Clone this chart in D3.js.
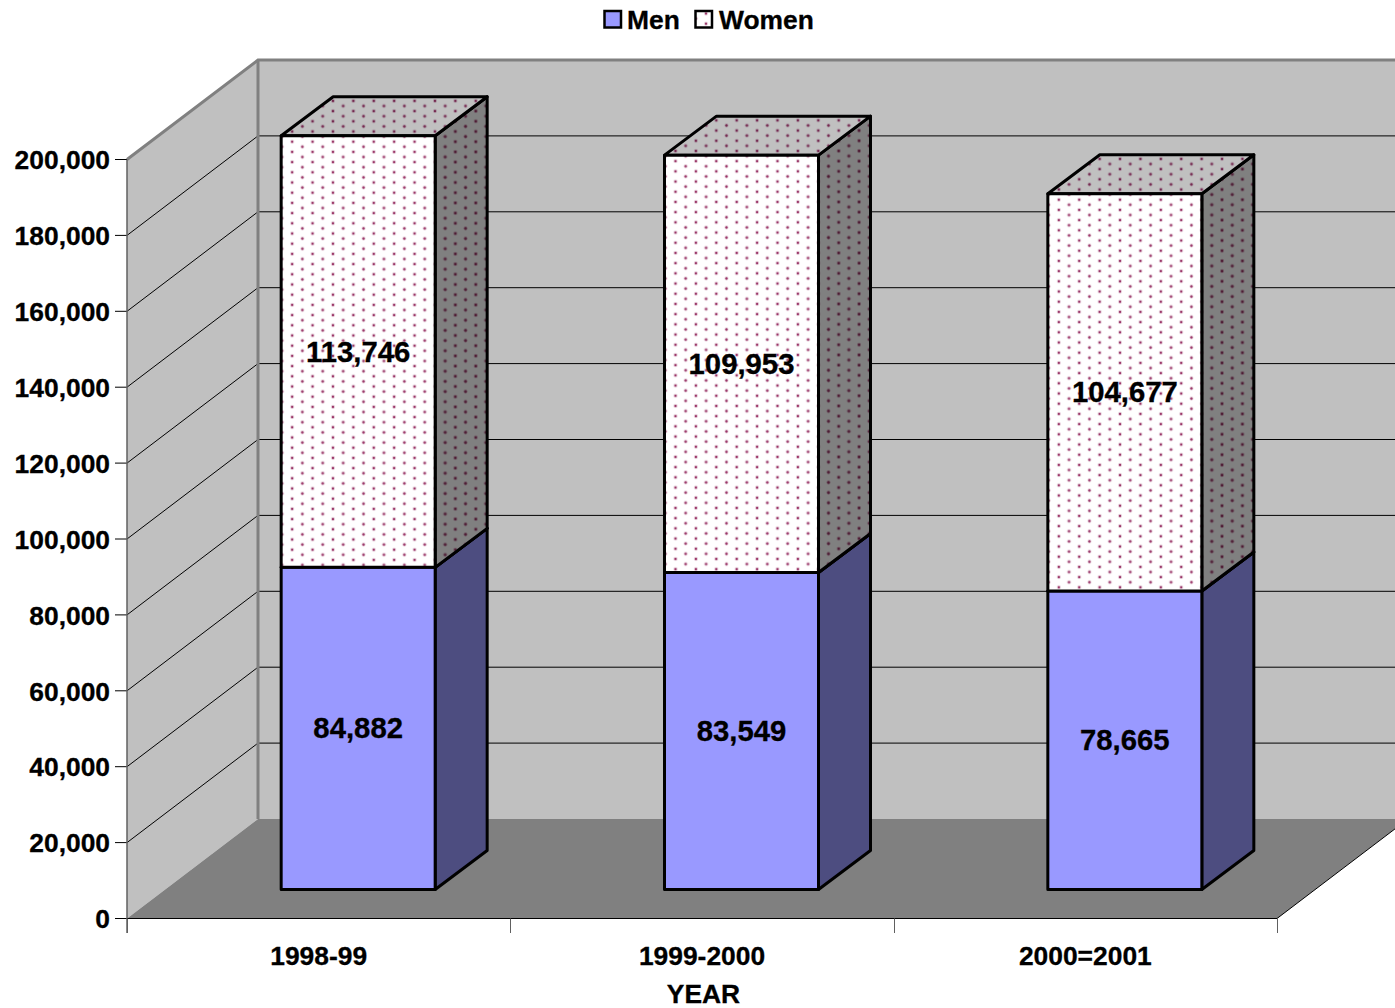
<!DOCTYPE html>
<html><head><meta charset="utf-8">
<style>html,body{margin:0;padding:0;background:#fff}svg{display:block}text{font-family:"Liberation Sans",Arial,sans-serif;font-weight:bold;fill:#000;stroke:#000;stroke-width:.3px}</style>
<script src="https://cdn.jsdelivr.net/npm/d3@7"></script></head><body>
<svg id="c" width="1395" height="1008"></svg>
<script>
const categories = ["1998-99","1999-2000","2000=2001"];
const men = [84882,83549,78665];
const women = [113746,109953,104677];
const seriesNames = ["Men","Women"];
const yTicks = [0,20000,40000,60000,80000,100000,120000,140000,160000,180000,200000];
const axisTitle = "YEAR";

const W=1395,H=1008;
const svg=d3.select("#c");
const x0=127,x1=1277,yB=918.5,yT=159.5;
const dx=131,dy=-99.5;          // full wall depth
const bdx=39.5,bdy=-29;         // bar front offset
const ddx=52,ddy=-39;           // bar depth
const barW=154;
const x=d3.scaleBand().domain(categories).range([x0,x1]);
const y=d3.scaleLinear().domain([0,200000]).range([yB,yT]);
const fmt=d3.format(",");
const P=a=>a.map(p=>p.join(",")).join(" ");

// patterns
const defs=svg.append("defs");
function pat(id,ox,oy,bg,dot,halo){
  const p=defs.append("pattern").attr("id",id).attr("patternUnits","userSpaceOnUse")
    .attr("x",ox).attr("y",oy).attr("width",20.4).attr("height",10.2);
  p.append("rect").attr("width",20.4).attr("height",10.2).attr("fill",bg);
  [[0,0],[20.4,0],[0,10.2],[20.4,10.2],[10.2,5.1]].forEach(c=>{
    p.append("circle").attr("cx",c[0]).attr("cy",c[1]).attr("r",2).attr("fill",halo);
    p.append("circle").attr("cx",c[0]).attr("cy",c[1]).attr("r",1.15).attr("fill",dot);
  });
}
function patSet(k,ox,oy){
  pat("wFront"+k,ox,oy,"#fff","#993366","#e6cfda");
  pat("wTop"+k,ox,oy,"#c0c0c0","#73264d","#ab95a2");
  pat("wSide"+k,ox,oy,"#808080","#4d1a33","#6d5661");
}
pat("wLegend",706,13.5,"#fff","#993366","#e6cfda");

// walls
svg.append("polygon").attr("points",P([[x0,yT],[x0+dx,yT+dy],[x0+dx,yB+dy],[x0,yB]])).attr("fill","#c0c0c0");
svg.append("polygon").attr("points",P([[x0+dx,yT+dy],[x1+dx,yT+dy],[x1+dx,yB+dy],[x0+dx,yB+dy]])).attr("fill","#c0c0c0");
svg.append("polygon").attr("points",P([[x0,yB],[x0+dx,yB+dy],[x1+dx,yB+dy],[x1,yB]])).attr("fill","#808080");

// gridlines
yTicks.slice(1,-1).forEach(t=>{
  const v=y(t);
  svg.append("polyline").attr("points",P([[x0,v],[x0+dx,v+dy],[x1+dx,v+dy]])).attr("fill","none").attr("stroke","#000").attr("stroke-width",1);
});
svg.append("polyline").attr("points",P([[x0,yT],[x0+dx,yT+dy],[W+20,yT+dy]])).attr("fill","none").attr("stroke","#808080").attr("stroke-width",3);
svg.append("line").attr("x1",x0+dx).attr("x2",x0+dx).attr("y1",yT+dy).attr("y2",yB+dy).attr("stroke","#808080").attr("stroke-width",3);

// axes
const yAxis=d3.axisLeft(y).tickValues(yTicks).tickFormat(fmt).tickSize(12).tickPadding(5).offset(0);
const ga=svg.append("g").attr("transform",`translate(${x0},0)`).call(yAxis);
ga.select(".domain").remove();
ga.selectAll("line").attr("stroke","#000");
ga.selectAll("text").style("font-size","26.4px").attr("fill","#000").attr("y",1).attr("dy","0.33em");
svg.append("line").attr("x1",x0).attr("x2",x0).attr("y1",yT).attr("y2",933).attr("stroke","#606060").attr("stroke-width",1.5);
svg.append("line").attr("x1",x0).attr("x2",x1).attr("y1",yB).attr("y2",yB).attr("stroke","#000");
svg.append("line").attr("x1",x1).attr("x2",x1+dx).attr("y1",yB).attr("y2",yB+dy).attr("stroke","#000");
d3.range(categories.length+1).forEach(i=>{
  const tx=Math.round(x0+i*x.step())+.5;
  svg.append("line").attr("x1",tx).attr("x2",tx).attr("y1",yB).attr("y2",933).attr("stroke","#606060").attr("stroke-width",1);
});
svg.selectAll(".cat").data(categories).join("text").attr("class","cat")
  .attr("x",d=>x(d)+x.bandwidth()/2).attr("y",965).attr("text-anchor","middle").style("font-size","26.4px").text(d=>d);
svg.append("text").attr("x",703.5).attr("y",1003).attr("text-anchor","middle").style("font-size","26.4px").text(axisTitle);

// bars
function box(l,b,t,front,top,side){
  const g=svg.append("g").attr("stroke","#000").attr("stroke-width",3).attr("stroke-linejoin","round");
  g.append("polygon").attr("points",P([[l+barW,t],[l+barW+ddx,t+ddy],[l+barW+ddx,b+ddy],[l+barW,b]])).attr("fill",side);
  g.append("polygon").attr("points",P([[l,t],[l+ddx,t+ddy],[l+barW+ddx,t+ddy],[l+barW,t]])).attr("fill",top);
  g.append("rect").attr("x",l).attr("y",t).attr("width",barW).attr("height",b-t).attr("fill",front);
}
const base=yB+bdy;
const v=d=>y(d)-y(0);
categories.forEach((c,i)=>{
  const l=x(c)+x.bandwidth()/2+bdx-barW/2;
  const m=men[i],w=women[i];
  box(l,base,base+v(m),"#9999ff","#9999ff","#4d4d80");
  patSet(i,l+11,base+v(m+w)+6);
  box(l,base+v(m),base+v(m+w),`url(#wFront${i})`,`url(#wTop${i})`,`url(#wSide${i})`);
  [[m,base+v(m/2)],[w,base+v(m+w/2)]].forEach(a=>{
    svg.append("text").attr("x",l+barW/2).attr("y",a[1]+10).attr("text-anchor","middle").style("font-size","29.3px").text(fmt(a[0]));
  });
});

// legend
const lg=[[604.5,627,"#9999ff"],[695.5,719,"url(#wLegend)"]];
seriesNames.forEach((n,i)=>{
  svg.append("rect").attr("x",lg[i][0]).attr("y",11).attr("width",16.5).attr("height",16.5).attr("fill",lg[i][2]).attr("stroke","#000").attr("stroke-width",2.5);
  svg.append("text").attr("x",lg[i][1]).attr("y",29).style("font-size","26.4px").text(n);
});
</script></body></html>
